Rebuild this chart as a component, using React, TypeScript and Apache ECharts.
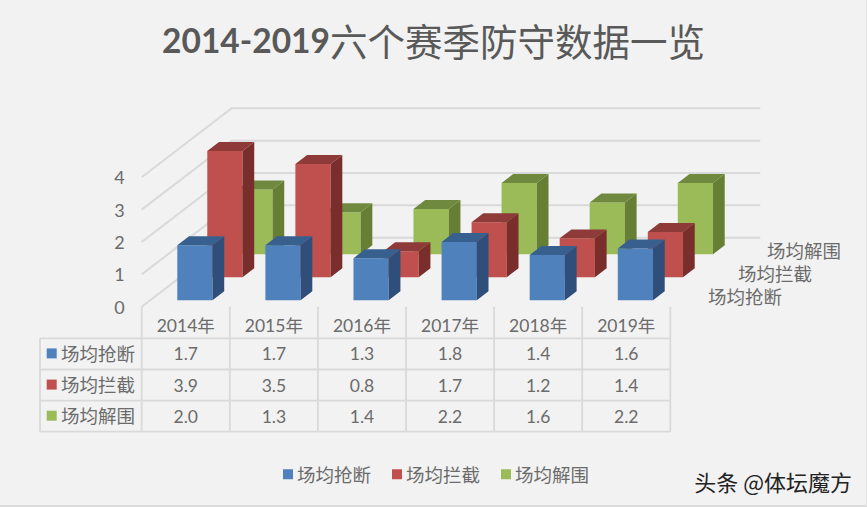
import React, { useEffect, useRef } from "react";
import * as echarts from "echarts";

const TITLE_NUM = "2014-2019";
const TITLE_CN = "六个赛季防守数据一览";
const WATERMARK = "头条 @体坛魔方";
const categories = ["2014年", "2015年", "2016年", "2017年", "2018年", "2019年"];
const seriesNames = ["场均抢断", "场均拦截", "场均解围"];
const steals = [1.7, 1.7, 1.3, 1.8, 1.4, 1.6];
const blocks = [3.9, 3.5, 0.8, 1.7, 1.2, 1.4];
const clears = [2.0, 1.3, 1.4, 2.2, 1.6, 2.2];
const valueTicks = [0, 1, 2, 3, 4];
const seriesValues = [steals, blocks, clears];
const frontColors = ["#4f81bd", "#c0504d", "#9bbb59"];
const topColors = ["#38608f", "#8e3a38", "#6f8a3e"];
const sideColors = ["#2f4f7a", "#7a2e2c", "#667f35"];

const BG = "#f2f2f2";
const LINE = "#d9d9d9";
const TEXT = "#6b6b6b";
const LATIN = "Lato, 'Noto Sans CJK SC', sans-serif";
const CJK = "'Noto Sans CJK SC', sans-serif";
const GRID = { left: 141.7, top: 177.3, width: 528.6, height: 129.4 };
const DEPTH_X = 90;
const DEPTH_Y = -69;
const BAR_DEPTH = 0.39;
const BAR_NUDGE_Y = 0.5;

const barRenderer = (slot: number) => (params: any, api: any) => {
  const cat = api.value(0);
  const val = api.value(1);
  const base = api.coord([cat, 0]);
  const top = api.coord([cat, val]);
  const band = api.size([1, 0])[0];
  const w = band / 2.5;
  const f = (slot + (1 - BAR_DEPTH) / 2) / 3;
  const dx = (DEPTH_X * BAR_DEPTH) / 3;
  const dy = (DEPTH_Y * BAR_DEPTH) / 3;
  const x0 = base[0] - w / 2 + DEPTH_X * f;
  const x1 = x0 + w;
  const y0 = base[1] + DEPTH_Y * f + BAR_NUDGE_Y;
  const y1 = top[1] + DEPTH_Y * f + BAR_NUDGE_Y;
  return {
    type: "group",
    children: [
      { type: "polygon", shape: { points: [[x0, y0], [x1, y0], [x1, y1], [x0, y1]] }, style: { fill: frontColors[slot] } },
      { type: "polygon", shape: { points: [[x1, y0], [x1 + dx, y0 + dy], [x1 + dx, y1 + dy], [x1, y1]] }, style: { fill: sideColors[slot] } },
      { type: "polygon", shape: { points: [[x0, y1], [x1, y1], [x1 + dx, y1 + dy], [x0 + dx, y1 + dy]] }, style: { fill: topColors[slot] } },
    ],
  };
};

const wallRenderer = (params: any, api: any) => {
  const v = api.value(0);
  const y = api.coord([0, v])[1];
  const cs = params.coordSys;
  return {
    type: "polyline",
    shape: {
      points: [
        [cs.x, y],
        [cs.x + DEPTH_X, y + DEPTH_Y],
        [cs.x + cs.width + DEPTH_X, y + DEPTH_Y],
      ],
    },
    style: { fill: "none", stroke: LINE, lineWidth: 2 },
  };
};

function tableGraphics() {
  const els: any[] = [];
  const band = GRID.width / categories.length;
  const right = GRID.left + GRID.width;
  const rowY = [338.3, 369.5, 400.7, 431.7];
  const tableLeft = 40;
  const line = (x1: number, y1: number, x2: number, y2: number) => ({
    type: "line",
    silent: true,
    shape: { x1, y1, x2, y2 },
    style: { stroke: LINE, lineWidth: 1.8 },
  });
  rowY.forEach((y) => els.push(line(tableLeft, y, right, y)));
  els.push(line(tableLeft, rowY[0], tableLeft, rowY[3]));
  for (let i = 0; i <= categories.length; i++) {
    const x = GRID.left + band * i;
    els.push(line(x, GRID.top + GRID.height, x, rowY[3]));
  }
  seriesNames.forEach((name, r) => {
    const cy = (rowY[r] + rowY[r + 1]) / 2;
    els.push({ type: "rect", shape: { x: 46.7, y: cy - 5.5, width: 10, height: 10 }, style: { fill: frontColors[r] } });
    els.push({
      type: "text",
      x: 61,
      y: cy - 1.2,
      style: { text: name, fill: TEXT, font: `18.5px ${CJK}`, textAlign: "left", textVerticalAlign: "middle" },
    });
    seriesValues[r].forEach((v, c) => {
      els.push({
        type: "text",
        x: GRID.left + band * (c + 0.5),
        y: cy,
        style: { text: v.toFixed(1), fill: TEXT, font: `17.5px ${LATIN}`, textAlign: "center", textVerticalAlign: "middle" },
      });
    });
  });
  // depth-axis labels, nearest series at the bottom
  const depthRight = [782, 812, 841];
  const depthY = [296, 273, 250];
  seriesNames.forEach((name, r) => {
    els.push({
      type: "text",
      x: depthRight[r],
      y: depthY[r],
      style: { text: name, fill: TEXT, font: `18.5px ${CJK}`, textAlign: "right", textVerticalAlign: "middle" },
    });
  });
  els.push({
    type: "text",
    x: 852,
    y: 481,
    style: { text: WATERMARK, fill: "#222222", font: `22px ${CJK}`, textAlign: "right", textVerticalAlign: "middle" },
  });
  els.push({ type: "line", shape: { x1: 0, y1: 506, x2: 867, y2: 506 }, style: { stroke: "#dcdcdc", lineWidth: 2 } });
  els.push({ type: "line", shape: { x1: 866.5, y1: 0, x2: 866.5, y2: 507 }, style: { stroke: "#e2e2e2", lineWidth: 1 } });
  return els;
}

export default function App() {
  const ref = useRef<HTMLDivElement>(null);
  useEffect(() => {
    const chart = echarts.init(ref.current!, undefined, { renderer: "svg" });
    chart.setOption({
      animation: false,
      backgroundColor: BG,
      title: {
        text: `{a|${TITLE_NUM}}{b|${TITLE_CN}}`,
        left: "center",
        top: 16,
        textStyle: {
          rich: {
            a: { fontFamily: LATIN, fontWeight: "bold", fontSize: 33.5, color: "#595959" },
            b: { fontFamily: CJK, fontWeight: "normal", fontSize: 37.5, color: "#595959" },
          },
        },
      },
      legend: {
        left: 278,
        top: 460,
        icon: "rect",
        itemWidth: 10,
        itemHeight: 10,
        itemGap: 21,
        data: seriesNames,
        textStyle: { color: TEXT, fontFamily: CJK, fontSize: 18.5, padding: [0, 0, 0, -1] },
      },
      grid: GRID,
      xAxis: {
        type: "category",
        data: categories,
        axisLine: { show: false },
        axisTick: { show: false },
        axisLabel: { color: TEXT, fontFamily: LATIN, fontSize: 17.5, margin: 10, interval: 0 },
      },
      yAxis: {
        type: "value",
        min: 0,
        max: 4,
        interval: 1,
        splitLine: { show: false },
        axisLine: { show: false },
        axisTick: { show: false },
        axisLabel: { color: TEXT, fontFamily: LATIN, fontSize: 18, margin: 17 },
      },
      series: [
        {
          type: "custom",
          name: "walls",
          silent: true,
          z: 1,
          clip: false,
          data: valueTicks.map((v) => [v]),
          encode: { y: 0 },
          renderItem: wallRenderer,
        },
        ...seriesNames.map((name, s) => ({
          type: "custom",
          name,
          z: 10 - s,
          clip: false,
          itemStyle: { color: frontColors[s] },
          data: seriesValues[s].map((v, i) => [i, v]),
          encode: { x: 0, y: 1 },
          renderItem: barRenderer(s),
        })),
      ],
      graphic: { elements: tableGraphics() },
    });
    return () => chart.dispose();
  }, []);
  return <div ref={ref} style={{ position: "fixed", left: 0, top: 0, width: 867, height: 507 }} />;
}
